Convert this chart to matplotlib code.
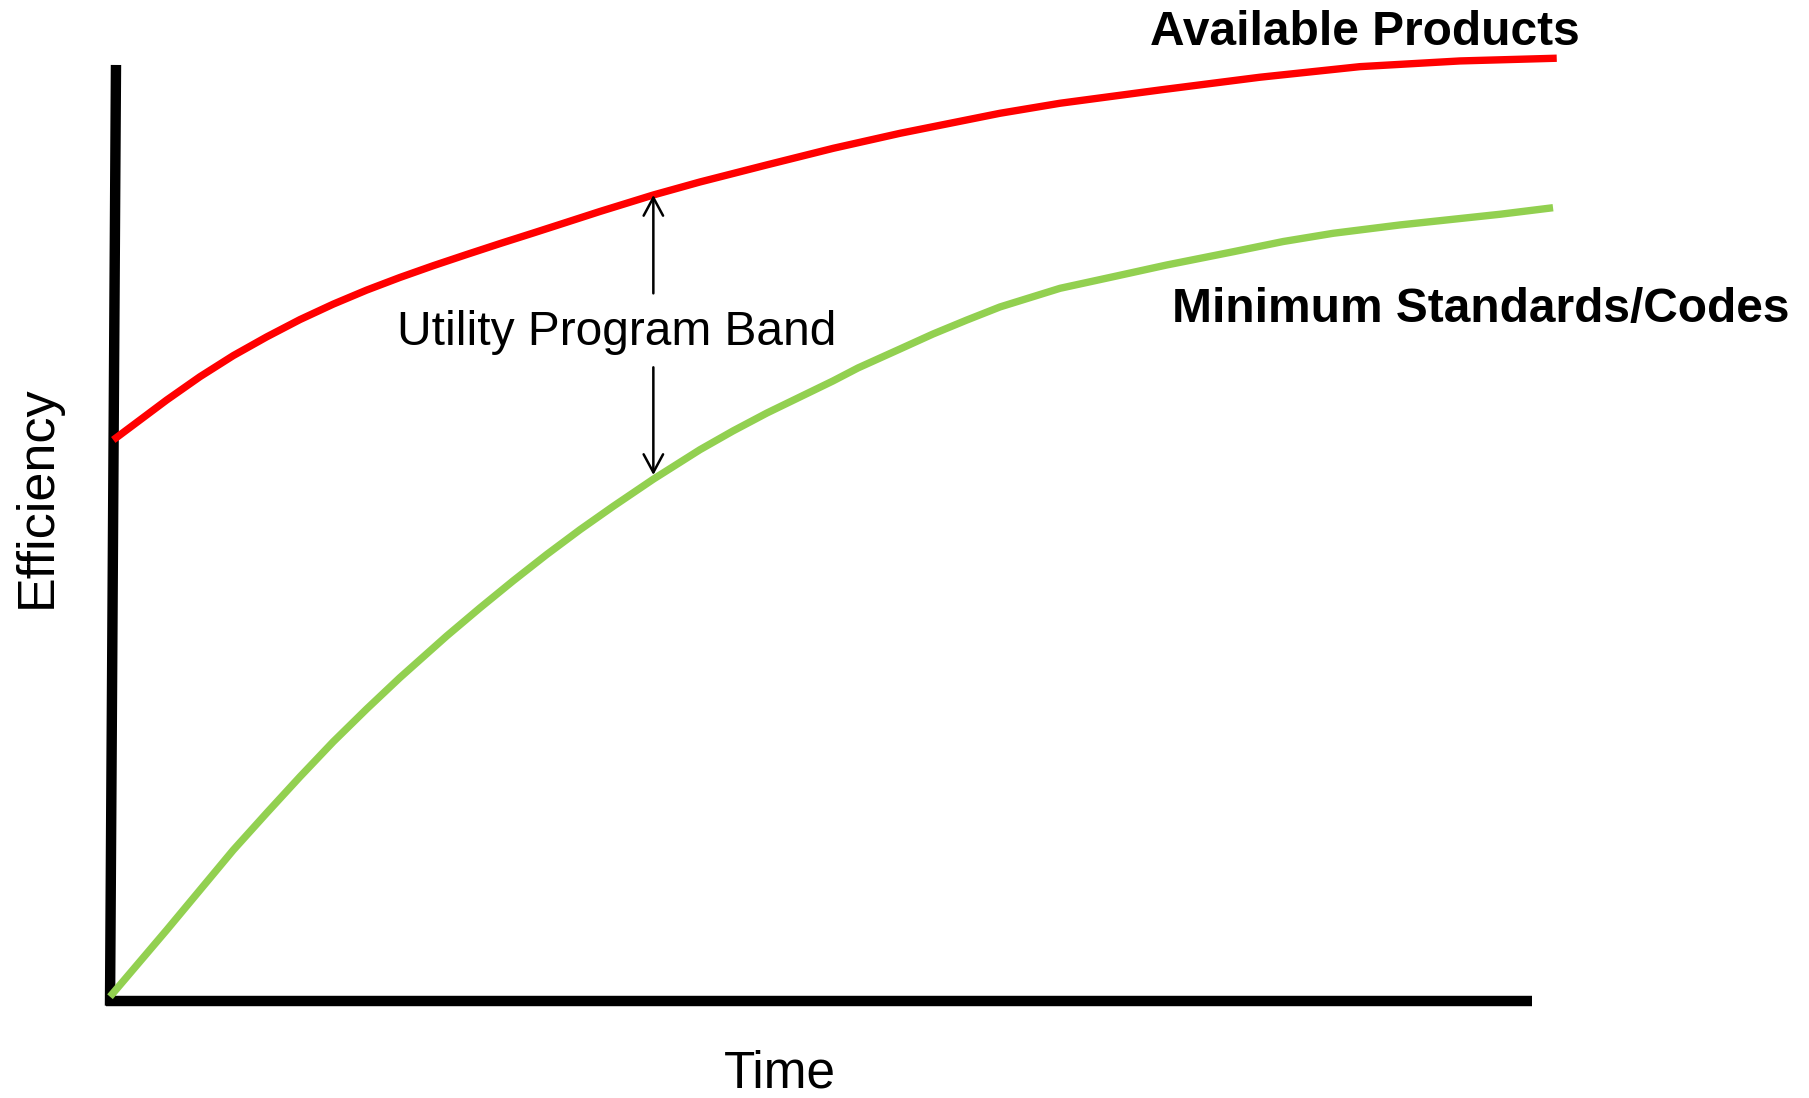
import numpy as np
import matplotlib
matplotlib.use("Agg")
import matplotlib.pyplot as plt

plt.rcParams['font.family'] = ['Liberation Sans', 'DejaVu Sans']

# time / efficiency in arbitrary units (axis runs 0..100 on both)
red_t = [0.23, 1.64, 3.99, 6.33, 8.67, 11.02, 13.36, 15.70, 18.05, 20.39, 22.74, 25.08, 27.43, 29.77,
         32.12, 34.46, 38.21, 41.49, 46.18, 50.87, 55.56, 62.59, 66.81, 73.84, 80.87, 87.90, 94.94, 101.74]
red_eff = [59.94, 61.54, 64.21, 66.70, 68.95, 70.95, 72.80, 74.45, 75.95, 77.30, 78.56, 79.75, 80.92, 82.05,
           83.20, 84.35, 86.11, 87.50, 89.32, 91.10, 92.70, 94.84, 95.91, 97.33, 98.69, 99.82, 100.43, 100.72]

green_t = [0.0, 3.99, 6.33, 8.67, 11.02, 13.36, 15.70, 18.05, 20.39, 23.68, 26.02, 28.36, 30.71, 33.05,
           35.39, 38.21, 41.49, 43.81, 46.20, 48.52, 50.84, 52.60, 55.56, 57.88, 60.27, 62.59, 66.81, 70.80,
           74.31, 79.00, 82.51, 86.03, 90.72, 97.75, 101.48]
green_eff = [0.46, 7.59, 11.86, 16.13, 20.09, 23.96, 27.70, 31.20, 34.55, 39.00, 42.00, 44.90, 47.70, 50.35,
             52.85, 55.75, 58.90, 60.90, 62.82, 64.53, 66.24, 67.63, 69.66, 71.26, 72.76, 74.15, 76.14, 77.46,
             78.63, 80.05, 81.14, 82.02, 82.91, 84.05, 84.75]

band_t = 38.21         # where the band arrows sit
band_label_top = 75.6  # arrow tails either side of the label
band_label_bottom = 67.7

RED = '#ff0000'
GREEN = '#92d050'

fig = plt.figure(figsize=(18.09, 10.98), dpi=100)
ax = fig.add_axes([0, 0, 1, 1])
ax.set_xlim(-7.736, 119.48)
ax.set_ylim(-10.36, 106.94)
ax.axis('off')

# hand-drawn style axes
ax.plot([-0.3, 100], [0, 0], color='black', lw=7.5, solid_capstyle='butt')
ax.plot([0, 0.42], [-0.5, 100], color='black', lw=7.5, solid_capstyle='butt')

ax.plot(red_t, red_eff, color=RED, lw=5.3, solid_capstyle='butt', solid_joinstyle='round')
ax.plot(green_t, green_eff, color=GREEN, lw=5.3, solid_capstyle='butt', solid_joinstyle='round')

# arrows spanning the band between the two curves
top = np.interp(band_t, red_t, red_eff)
bottom = np.interp(band_t, green_t, green_eff)
arrow = dict(arrowstyle='->,head_length=1.3,head_width=0.7', lw=1.8, color='black',
             shrinkA=0, shrinkB=0, mutation_scale=10)
ax.annotate('', xy=(band_t, top), xytext=(band_t, band_label_top), arrowprops=arrow)
ax.annotate('', xy=(band_t, bottom), xytext=(band_t, band_label_bottom),
            arrowprops=dict(arrow, shrinkB=3))

ax.text(35.65, 70.1, 'Utility Program Band', fontsize=34.5, ha='center', va='baseline')
ax.text(73.14, 102.1, 'Available Products', fontsize=34.5, fontweight='bold', ha='left', va='baseline')
ax.text(74.68, 72.54, 'Minimum Standards/Codes', fontsize=34.5, fontweight='bold', ha='left', va='baseline')

ax.text(47.1, -9.2, 'Time', fontsize=37, ha='center', va='baseline')
ax.text(-4.2, 53.85, 'Efficiency', fontsize=37.5, rotation=90, rotation_mode='anchor',
        ha='center', va='baseline')

fig.savefig('out.png', dpi=100, facecolor='white')
